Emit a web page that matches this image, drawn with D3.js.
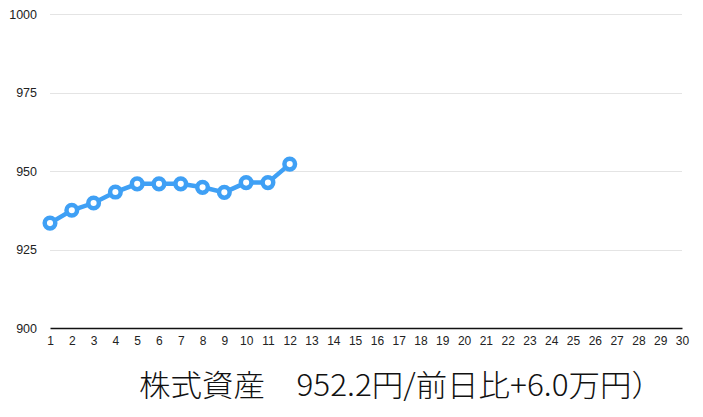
<!DOCTYPE html>
<html>
<head>
<meta charset="utf-8">
<script src="https://cdn.jsdelivr.net/npm/d3@7"></script>
<style>
  body { margin: 0; background: #fff; }
  svg { display: block; }
</style>
</head>
<body>
<div id="chart"></div>
<script>
// data
var days = d3.range(1, 31);
var assetDays = [1, 2, 3, 4, 5, 6, 7, 8, 9, 10, 11, 12];
var assetValues = [933.4, 937.5, 939.8, 943.3, 945.9, 945.9, 945.9, 944.8, 943.2, 946.3, 946.3, 952.2];
var yTicks = [900, 925, 950, 975, 1000];
var titleText = "株式資産　952.2円/前日比+6.0万円）";

var width = 703, height = 417;
var margin = {top: 14, right: 21, bottom: 89, left: 50};

var svg = d3.select("#chart")
  .append("svg")
    .attr("width", width)
    .attr("height", height);

var x = d3.scaleLinear()
  .domain([1, 30])
  .range([margin.left, width - margin.right]);

var y = d3.scaleLinear()
  .domain([900, 1000])
  .range([height - margin.bottom, margin.top]);

// grid lines
svg.append("g")
  .selectAll("line")
  .data(yTicks.filter(function(d) { return d > 900; }))
  .enter()
  .append("line")
    .attr("x1", margin.left)
    .attr("x2", width - margin.right)
    .attr("y1", function(d) { return Math.round(y(d)) + 0.5; })
    .attr("y2", function(d) { return Math.round(y(d)) + 0.5; })
    .attr("stroke", "#e4e4e4")
    .attr("stroke-width", 1);

// y axis labels
var yAxis = svg.append("g")
  .attr("transform", "translate(" + (margin.left - 13) + ",0)")
  .call(d3.axisLeft(y).tickValues(yTicks).tickFormat(d3.format("d")).tickSize(0).tickPadding(0));
yAxis.select(".domain").remove();
yAxis.selectAll("text")
  .style("font-family", "'Liberation Sans', Arial, sans-serif")
  .style("font-size", "12.5px")
  .attr("fill", "#222");

// x axis
var xAxis = svg.append("g")
  .attr("transform", "translate(0," + y(900) + ")")
  .call(d3.axisBottom(x).tickValues(days).tickSize(0).tickPadding(8));
xAxis.select(".domain")
  .attr("stroke", "#111")
  .attr("stroke-width", 1.5);
xAxis.selectAll("text")
  .style("font-family", "'Liberation Sans', Arial, sans-serif")
  .style("font-size", "12px")
  .attr("fill", "#222");

// line
var line = d3.line()
  .x(function(d, i) { return x(assetDays[i]); })
  .y(function(d) { return y(d); });

svg.append("path")
  .datum(assetValues)
  .attr("fill", "none")
  .attr("stroke", "#3fa0f5")
  .attr("stroke-width", 4.5)
  .attr("d", line);

svg.selectAll("circle.pt")
  .data(assetValues)
  .enter()
  .append("circle")
    .attr("class", "pt")
    .attr("cx", function(d, i) { return x(assetDays[i]); })
    .attr("cy", function(d) { return y(d); })
    .attr("r", 5.3)
    .attr("fill", "#fff")
    .attr("stroke", "#3fa0f5")
    .attr("stroke-width", 4.5);

// title
svg.append("text")
  .attr("x", 139)
  .attr("y", 396)
  .attr("textLength", 524)
  .attr("lengthAdjust", "spacingAndGlyphs")
  .style("font-family", "'Noto Sans CJK JP', sans-serif")
  .style("font-weight", 300)
  .style("font-size", "30px")
  .attr("fill", "#111")
  .text(titleText);
</script>
</body>
</html>
